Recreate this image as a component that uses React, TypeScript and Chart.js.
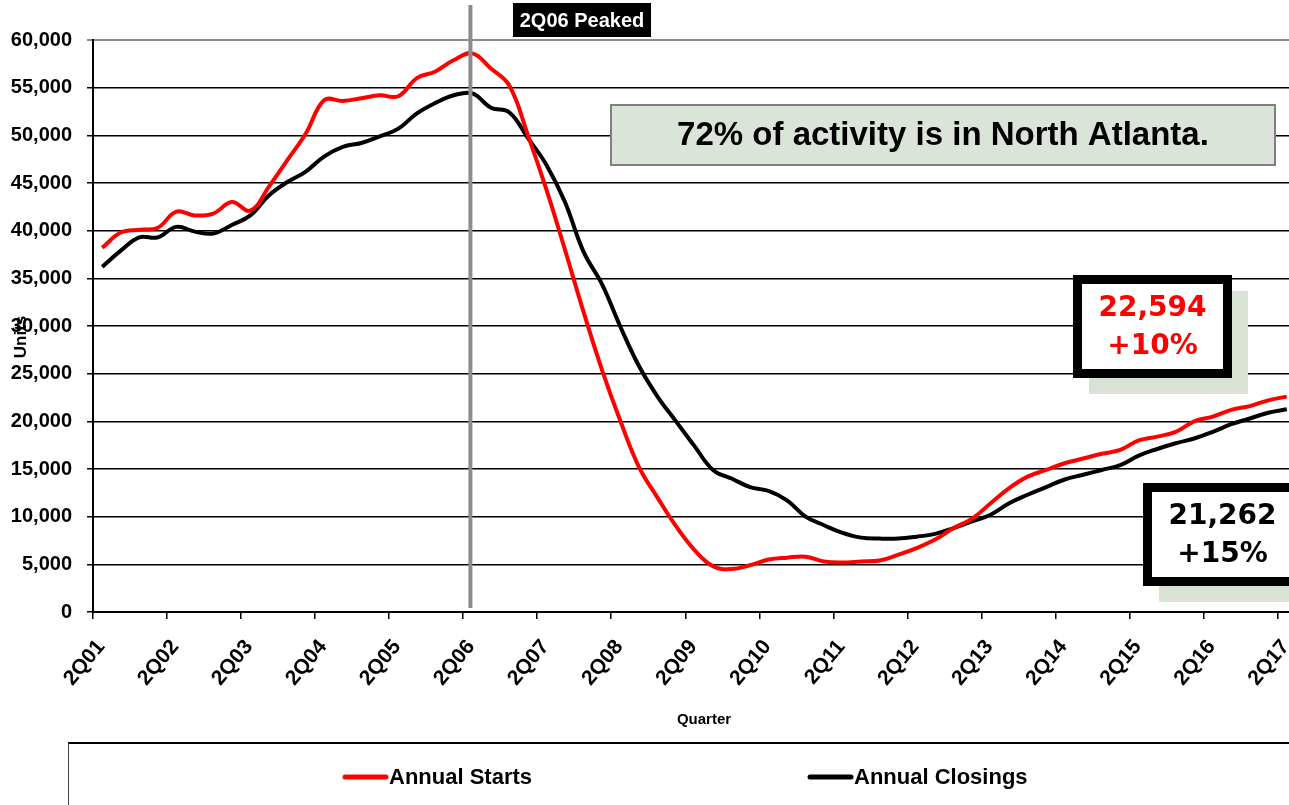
import React, { useEffect, useRef } from 'react';
import { Chart, registerables } from 'chart.js';

Chart.register(...registerables);

// ---- Data (quarterly, 2Q01 .. 2Q17) ----
const quarterTickLabels = [
  '2Q01', '2Q02', '2Q03', '2Q04', '2Q05', '2Q06', '2Q07', '2Q08', '2Q09',
  '2Q10', '2Q11', '2Q12', '2Q13', '2Q14', '2Q15', '2Q16', '2Q17',
];

const annualStarts = [
  38200, 39800, 40100, 40300, 42000, 41600, 41800, 43000, 42100, 44600, 47400, 50200, 53700, 53600, 53900, 54200, 54100,
  56000, 56700, 57900, 58600, 57000, 55200, 50000, 44300, 38000,
  31500, 25400, 20000, 15200, 12000, 9000, 6500, 4800, 4500, 4900, 5500, 5700, 5800, 5300, 5200,
  5300, 5400, 6000, 6700, 7600, 8800, 9800, 11400, 13000, 14200, 14900, 15600, 16100, 16600, 17000,
  18000, 18400, 18900, 20000, 20500, 21200, 21600, 22200, 22594,
];

const annualClosings = [
  36200, 37900, 39300, 39300, 40400, 39900, 39700, 40600, 41600, 43700, 45100, 46200, 47800, 48800, 49200, 49900, 50700,
  52300, 53400, 54200, 54400, 52900, 52400, 49700, 46900, 43000, 37800,
  34400, 29900, 25800, 22600, 20000, 17400, 14900, 14000, 13100, 12700, 11700, 10000, 9100, 8300,
  7800, 7700, 7700, 7900, 8200, 8800, 9500, 10200, 11400, 12300, 13100, 13900, 14400, 14900, 15400,
  16400, 17100, 17700, 18200, 18900, 19700, 20300, 20900, 21262,
];

const seriesNames = ['Annual Starts', 'Annual Closings'];
const seriesColors = ['#ff0000', '#000000'];

const peakQuarterIndex = 20; // 2Q06
const peakLabel = '2Q06 Peaked';
const noteText = '72% of activity is in North Atlanta.';
const startsCallout = ['22,594', '+10%'];
const closingsCallout = ['21,262', '+15%'];
const yAxisTitle = 'Units';
const xAxisTitle = 'Quarter';

const SANS = '"Liberation Sans", Arial, Helvetica, sans-serif';
const CALLOUT_FONT = '"DejaVu Sans", Verdana, sans-serif';

// tick marks sit on quarter boundaries every 4 quarters
const xTickValues = quarterTickLabels.map((_, k) => k * 4 - 0.5);

const overlayPlugin = {
  id: 'overlay',
  afterDatasetsDraw(chart: any) {
    const { ctx, scales } = chart;
    const x = scales.x;
    const y = scales.y;
    ctx.save();

    // peak vertical line
    const px = x.getPixelForValue(peakQuarterIndex) - 2;
    ctx.strokeStyle = '#8c8c8c';
    ctx.lineWidth = 4;
    ctx.beginPath();
    ctx.moveTo(px, 5);
    ctx.lineTo(px, y.getPixelForValue(0) - 4);
    ctx.stroke();

    // peak label
    ctx.fillStyle = '#000';
    ctx.fillRect(513, 3, 138, 34);
    ctx.fillStyle = '#fff';
    ctx.font = `bold 20px ${SANS}`;
    ctx.textAlign = 'center';
    ctx.textBaseline = 'middle';
    ctx.fillText(peakLabel, 582, 21);

    // note box
    ctx.fillStyle = '#dae4d8';
    ctx.fillRect(611, 105, 664, 60);
    ctx.strokeStyle = '#808080';
    ctx.lineWidth = 2;
    ctx.strokeRect(611, 105, 664, 60);
    ctx.fillStyle = '#000';
    ctx.font = `bold 33px ${SANS}`;
    ctx.fillText(noteText, 943, 136);

    // callout boxes
    const drawCallout = (left: number, top: number, lines: string[], color: string) => {
      const w = 159;
      const h = 103;
      const b = 9;
      ctx.fillStyle = '#d8e3d6';
      ctx.fillRect(left + 16, top + 16, w, h);
      ctx.fillStyle = '#fff';
      ctx.fillRect(left, top, w, h);
      ctx.strokeStyle = '#000';
      ctx.lineWidth = b;
      ctx.strokeRect(left + b / 2, top + b / 2, w - b, h - b);
      ctx.fillStyle = color;
      ctx.font = `bold 28px ${CALLOUT_FONT}`;
      ctx.textAlign = 'center';
      ctx.textBaseline = 'middle';
      ctx.fillText(lines[0], left + w / 2, top + h / 2 - 18);
      ctx.fillText(lines[1], left + w / 2, top + h / 2 + 20);
    };
    drawCallout(1073, 275, startsCallout, seriesColors[0]);
    drawCallout(1143, 483, closingsCallout, seriesColors[1]);

    ctx.restore();
  },
  afterDraw(chart: any) {
    const { ctx } = chart;
    ctx.save();
    // y-axis title
    ctx.translate(21, 337);
    ctx.rotate(-Math.PI / 2);
    ctx.fillStyle = '#000';
    ctx.font = `bold 17px ${SANS}`;
    ctx.textAlign = 'center';
    ctx.textBaseline = 'middle';
    ctx.fillText(yAxisTitle, 0, 0);
    ctx.restore();

    ctx.save();
    // x-axis title
    ctx.fillStyle = '#000';
    ctx.font = `bold 15px ${SANS}`;
    ctx.textAlign = 'center';
    ctx.textBaseline = 'middle';
    ctx.fillText(xAxisTitle, 704, 720);

    // legend frame
    ctx.strokeStyle = '#000';
    ctx.lineWidth = 2;
    ctx.beginPath();
    ctx.moveTo(68, 743);
    ctx.lineTo(1289, 743);
    ctx.stroke();
    ctx.lineWidth = 1;
    ctx.strokeStyle = '#444';
    ctx.beginPath();
    ctx.moveTo(68.5, 743);
    ctx.lineTo(68.5, 805);
    ctx.stroke();

    // legend items
    const legendX = [343, 808];
    chart.data.datasets.forEach((ds: any, i: number) => {
      const lx = legendX[i];
      ctx.strokeStyle = ds.borderColor;
      ctx.lineWidth = 5;
      ctx.lineCap = 'round';
      ctx.beginPath();
      ctx.moveTo(lx + 2, 777);
      ctx.lineTo(lx + 43, 777);
      ctx.stroke();
      ctx.fillStyle = '#000';
      ctx.font = `bold 22px ${SANS}`;
      ctx.textAlign = 'left';
      ctx.textBaseline = 'middle';
      ctx.fillText(ds.label, lx + 46, 778);
    });
    ctx.restore();
  },
};

export default function App() {
  const canvasRef = useRef<HTMLCanvasElement | null>(null);

  useEffect(() => {
    if (!canvasRef.current) return;
    const chart = new Chart(canvasRef.current, {
      type: 'line',
      data: {
        datasets: [
          {
            label: seriesNames[0],
            data: annualStarts.map((v, i) => ({ x: i, y: v })),
            borderColor: seriesColors[0],
            backgroundColor: seriesColors[0],
            borderWidth: 4,
            pointRadius: 0,
            tension: 0.4,
            fill: false,
          },
          {
            label: seriesNames[1],
            data: annualClosings.map((v, i) => ({ x: i, y: v })),
            borderColor: seriesColors[1],
            backgroundColor: seriesColors[1],
            borderWidth: 4,
            pointRadius: 0,
            tension: 0.4,
            fill: false,
          },
        ],
      },
      options: {
        animation: false,
        responsive: true,
        maintainAspectRatio: false,
        layout: { padding: { top: 40, left: 0, right: 0, bottom: 0 } },
        plugins: {
          legend: { display: false },
          tooltip: { enabled: false },
          title: { display: false },
        },
        scales: {
          x: {
            type: 'linear',
            min: -0.5,
            max: 64.12,
            afterBuildTicks: (scale: any) => {
              scale.ticks = xTickValues.map((v) => ({ value: v }));
            },
            afterFit: (scale: any) => {
              scale.height = 193;
              scale.paddingLeft = 0;
              scale.paddingRight = 0;
            },
            grid: {
              drawOnChartArea: false,
              drawTicks: true,
              tickLength: 7,
              color: '#000',
              lineWidth: 1.5,
            },
            border: { display: true, color: '#000', width: 2 },
            ticks: {
              autoSkip: false,
              minRotation: 50,
              maxRotation: 50,
              padding: 16,
              labelOffset: 8,
              color: '#000',
              font: { family: SANS, size: 21, weight: 'bold' },
              callback: (_v: any, index: number) => quarterTickLabels[index],
            },
          },
          y: {
            type: 'linear',
            min: 0,
            max: 60000,
            afterFit: (scale: any) => {
              scale.width = 93;
            },
            grid: {
              color: (c: any) => (c.tick && c.tick.value === 60000 ? '#8a8a8a' : '#000'),
              lineWidth: (c: any) => (c.tick && c.tick.value === 60000 ? 2 : 1.5),
              tickLength: 6,
              drawTicks: true,
            },
            border: { display: true, color: '#000', width: 2 },
            ticks: {
              stepSize: 5000,
              padding: 15,
              color: '#000',
              font: { family: SANS, size: 20, weight: 'bold' },
              callback: (v: any) => Number(v).toLocaleString('en-US'),
            },
          },
        },
      } as any,
      plugins: [overlayPlugin],
    });
    return () => chart.destroy();
  }, []);

  return (
    <div style={{ position: 'absolute', left: 0, top: 0, width: 1289, height: 805, background: '#fff' }}>
      <canvas ref={canvasRef} />
    </div>
  );
}
